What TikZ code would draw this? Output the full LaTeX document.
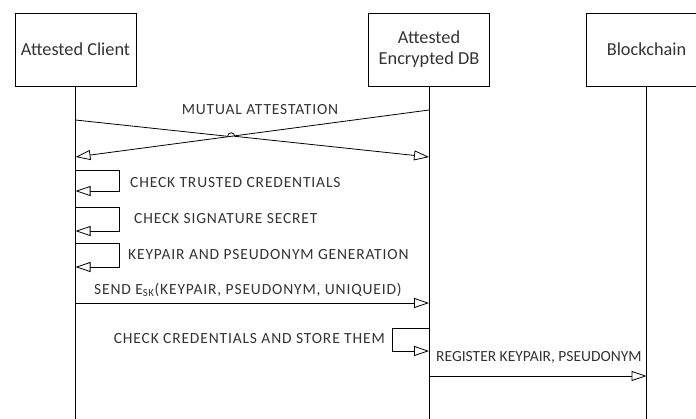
\documentclass[tikz,border=0pt]{standalone}
\usepackage{fontspec}
\setmainfont{Carlito}
\newfontfamily\lblfont[LetterSpace=5.5]{Carlito}
\usetikzlibrary{arrows.meta,calc,intersections}

\begin{document}
\begin{tikzpicture}[x=1pt,y=1pt,
        actor/.style={draw,line width=0.8pt,minimum width=121pt,minimum height=73pt,align=center,font=\fontsize{18.3}{21}\selectfont,text=black!80},
        life/.style={line width=0.8pt},
        msg/.style={line width=0.8pt,-{Triangle[open,length=15pt,width=10pt]}},
        lbl/.style={font=\lblfont\fontsize{15.5}{18}\selectfont,text=black!80,inner sep=0pt}]
        \clip (0,0) rectangle (696,-418);
        \node[actor] (client) at (75.5,-49.5) {Attested Client};
        \node[actor] (db) at (429,-49.5) {Attested\\Encrypted DB};
        \node[actor] (chain) at (646.5,-49.5) {Blockchain};
        \coordinate (clientEnd) at (client.south |- 0,-420);
        \coordinate (dbEnd) at (db.south |- 0,-420);
        \coordinate (chainEnd) at (chain.south |- 0,-420);
        \draw[life] (client) -- (clientEnd);
        \draw[life] (db) -- (dbEnd);
        \draw[life] (chain) -- (chainEnd);
        % mutual attestation, crossing lines
        \coordinate (a1) at (client.south |- 0,-120);
        \coordinate (a2) at (db.south |- 0,-157);
        \coordinate (b1) at (db.south |- 0,-110);
        \coordinate (b2) at (client.south |- 0,-157);
        \path[name path=ab] (a1) -- (a2);
        \path[name path=ba] (b1) -- (b2);
        \path[name intersections={of=ab and ba,by=cross}];
        \draw[msg] (b1) -- (b2);
        \draw[msg] (a1) -- ($(cross)+(-3.5,0)$) arc (180:0:3.5) -- (a2);
        \node[lbl] (mutual) at (260,-110) {MUTUAL ATTESTATION};
        \draw[msg] (client.south |- 0,-170) -| (119,-191) -- (client.south |- 0,-191);
        \node[lbl,anchor=west] (trusted) at (130,-183) {CHECK TRUSTED CREDENTIALS};
        \draw[msg] (client.south |- 0,-207) -| (119,-231) -- (client.south |- 0,-231);
        \node[lbl,anchor=west] (secret) at (134,-219) {CHECK SIGNATURE SECRET};
        \draw[msg] (client.south |- 0,-243) -| (119,-267) -- (client.south |- 0,-267);
        \node[lbl,anchor=west] (keygen) at (128,-255) {KEYPAIR AND PSEUDONYM GENERATION};
        \draw[msg] (client.south |- 0,-303) -- (db.south |- 0,-303);
        \node[lbl,anchor=west] (send) at (94,-290) {SEND E\textsubscript{SK}(KEYPAIR, PSEUDONYM, UNIQUEID)};
        \draw[msg] (db.south |- 0,-328) -| (392,-351) -- (db.south |- 0,-351);
        \node[lbl,anchor=east] (store) at (385,-339) {CHECK CREDENTIALS AND STORE THEM};
        \draw[msg] (db.south |- 0,-376) -- (chain.south |- 0,-376);
        \node[lbl,font=\fontsize{15.5}{18}\selectfont,anchor=west] (register) at (436,-357) {REGISTER KEYPAIR, PSEUDONYM};
    \end{tikzpicture}
\end{document}
